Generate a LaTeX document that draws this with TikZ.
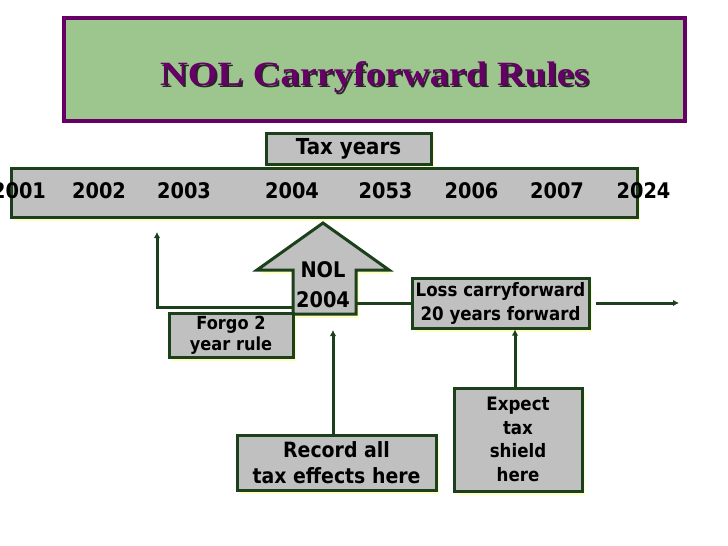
\documentclass[tikz,border=0pt]{standalone}
\usepackage{fontspec}
\setmainfont{DejaVu Sans}[FakeStretch=0.9]
\newfontfamily\titlefont{Liberation Serif}[FakeStretch=1.13]
\usepackage{tikz}
\usetikzlibrary{positioning,arrows.meta,shadows}
\definecolor{Frame}{HTML}{1C3F1C}
\definecolor{Panel}{HTML}{C0C0C0}
\definecolor{Plum}{HTML}{660066}
\definecolor{Sage}{HTML}{9CC68E}
\definecolor{Glow}{HTML}{FFFFC4}
\newcommand{\embossed}[1]{\makebox[0pt][l]{\hspace{1.8pt}\raisebox{-1.8pt}{\textcolor{black!85}{#1}}}#1}

\begin{document}
\begin{tikzpicture}[
  x=1pt, y=-1pt,
  heading/.style={draw=Plum, line width=4pt, fill=Sage, minimum width=621pt, minimum height=103pt,
    text height=39pt, text depth=7pt, text=Plum, font=\titlefont\bfseries\fontsize{34}{40}\selectfont},
  box/.style={draw=Frame, line width=3pt, fill=Panel, inner sep=2pt, align=center,
    drop shadow={fill=Glow, opacity=1, shadow xshift=3pt, shadow yshift=-4pt}},
  year/.style={anchor=base, font=\bfseries\fontsize{21.5}{26}\selectfont},
  arrow/.style={-{Latex[length=6pt,width=6.5pt]}, line width=3pt, color=Frame},
  link/.style={line width=3pt, color=Frame}
]
  \useasboundingbox (0,0) rectangle (728,546);
  \node[heading] (title) at (374.5,69.5) {\embossed{NOL Carryforward Rules}};
  \node[box, minimum width=165pt, minimum height=31pt, font=\bfseries\fontsize{22}{26}\selectfont] (taxyears) at (348.5,148.5) {Tax years};
  \node[box, minimum width=626pt, minimum height=49pt] (timeline) at (324,192.5) {};
  \foreach \yr/\xpos in {2001/19, 2002/99, 2003/184, 2004/292, 2053/385.5, 2006/471.5, 2007/557, 2024/643.5}
    \node[year] (y\yr) at (\xpos,198) {\yr};
  \draw[box] (293,314) coordinate (nolsw) -- (293,270) -- (257,270) -- (323,223) -- (389,270)
    -- (356,270) -- (356,314) coordinate (nolse) -- cycle;
  \node[align=center, inner sep=0pt, font=\bfseries\fontsize{21.5}{30}\selectfont] (nol) at (323,284.4) {NOL\\2004};
  \node[box, minimum width=124pt, minimum height=44pt, font=\bfseries\fontsize{18}{21}\selectfont] (forgo) at (231,335) {Forgo 2\\year rule};
  \node[box, minimum width=177pt, minimum height=50pt, font=\bfseries\fontsize{18.5}{24}\selectfont] (loss) at (500.5,303) {Loss carryforward\\20 years forward};
  \node[box, minimum width=199pt, minimum height=55pt, font=\bfseries\fontsize{21}{26}\selectfont] (record) at (336.5,462.5) {Record all\\tax effects here};
  \node[box, minimum width=128pt, minimum height=103pt, font=\bfseries\fontsize{18.5}{23.5}\selectfont] (expect) at (518,439.5) {Expect\\tax\\shield\\here};
  \coordinate (back) at (157,232);
  \coordinate (ahead) at (679,303);
  \draw[arrow] ([yshift=7pt]nolsw) -| (back);
  \draw[link] (nolse |- loss.west) -- (loss.west);
  \draw[arrow] ([xshift=5pt]loss.east) -- (ahead);
  \draw[arrow] ([xshift=-3.5pt]record.north) -- ([xshift=-3.5pt]record.north |- 0,330);
  \draw[arrow] ([xshift=-3pt]expect.north) -- ([xshift=-3pt]expect.north |- loss.south);
\end{tikzpicture}
\end{document}
